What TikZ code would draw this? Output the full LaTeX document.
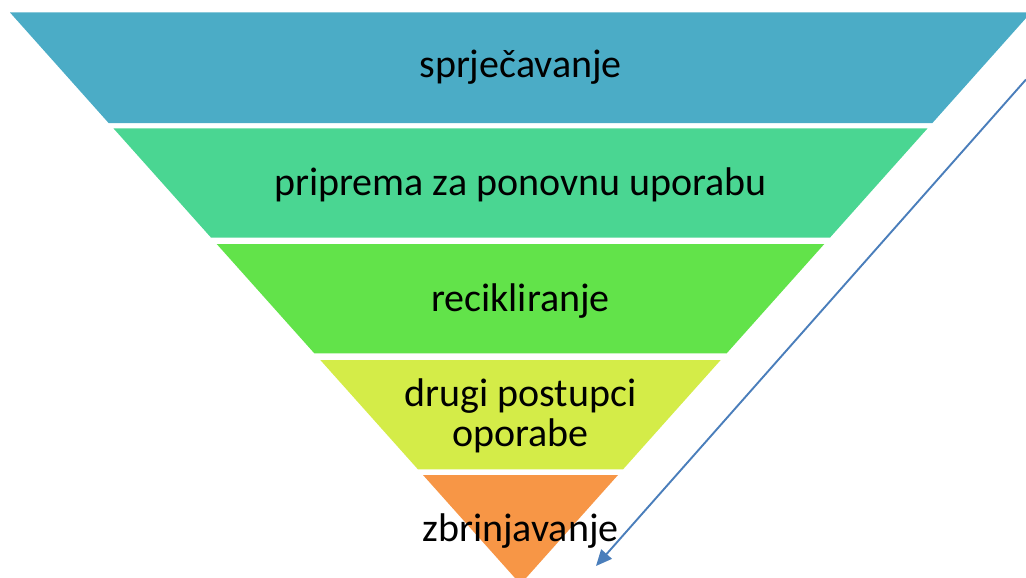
\documentclass[tikz,border=0pt]{standalone}
\usepackage{fontspec}
\setmainfont{Carlito}
\usetikzlibrary{arrows.meta}
\definecolor{lvA}{RGB}{75,172,198}
\definecolor{lvB}{RGB}{74,214,146}
\definecolor{lvC}{RGB}{98,227,74}
\definecolor{lvD}{RGB}{212,236,72}
\definecolor{lvE}{RGB}{247,150,70}
\definecolor{arrowblue}{RGB}{74,126,187}
\tikzset{
  layer/.style={draw=none},
  lbl/.style={font=\fontsize{40}{44}\selectfont, text=black, anchor=base, inner sep=0pt, align=center},
  flow/.style={draw=arrowblue, line width=1.9pt, -{Triangle[length=16pt,width=14pt]}}
}
\begin{document}
\begin{tikzpicture}[x=1pt,y=-1pt]
\useasboundingbox (0,0) rectangle (1026,578);
\clip (0,0) rectangle (1026,578);
\fill[layer,lvA] (10.0,12.5) -- (1031.0,12.5) -- (932.4,123) -- (108.6,123) -- cycle;
\fill[layer,lvB] (113.4,128.3) -- (927.6,128.3) -- (829.9,237.7) -- (211.1,237.7) -- cycle;
\fill[layer,lvC] (216.7,244) -- (824.3,244) -- (726.7,353.3) -- (314.3,353.3) -- cycle;
\fill[layer,lvD] (320.3,360) -- (720.7,360) -- (623.1,469.3) -- (417.9,469.3) -- cycle;
\fill[layer,lvE] (423,475) -- (618,475) -- (520.5,584.2) -- cycle;
\node[lbl] (t1) at (520.5,77.7) {sprječavanje};
\node[lbl] (t2) at (520.5,195) {priprema za ponovnu uporabu};
\node[lbl] (t3) at (520.5,311) {recikliranje};
\node[lbl] (t4a) at (520.5,406) {drugi postupci};
\node[lbl] (t4b) at (520.5,446) {oporabe};
\node[lbl] (t5) at (520.5,541.7) {zbrinjavanje};
\coordinate (as) at (1026,79.5);
\coordinate (ae) at (596,566);
\draw[flow] (as) -- (ae);
\end{tikzpicture}
\end{document}
